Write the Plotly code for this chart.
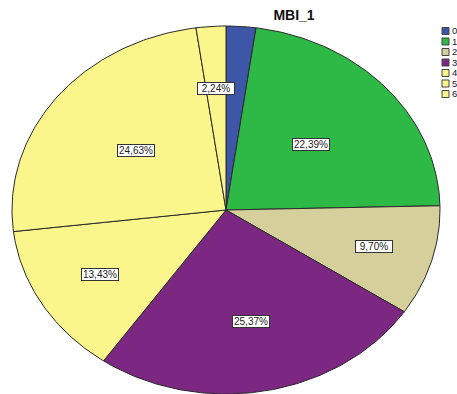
import numpy as np
import plotly.graph_objects as go

# MBI_1 answer distribution (percent of respondents)
categories = ["0", "1", "2", "3", "4", "5", "6"]
percents = [2.24, 22.39, 9.70, 25.37, 13.43, 24.63, 2.24]
show_label = [False, True, True, True, True, True, True]

colors = ["#3D56A8", "#2EB846", "#D4CF9B", "#7C2781", "#FAF68C", "#FAF68C", "#FAF68C"]
edge = "#2a2a2a"
# radial position of each value label, as a fraction of the radius
label_radius = [0.6, 0.533, 0.721, 0.616, 0.687, 0.528, 0.661]

W, H = 457, 394
cx, cy = 226, 210          # pie centre in pixels
rx, ry = 214, 184          # horizontal / vertical radius in pixels

fig = go.Figure()

fractions = np.array(percents) / sum(percents)
starts = np.concatenate([[0.0], np.cumsum(fractions)[:-1]])
for i, (cat, frac, start) in enumerate(zip(categories, fractions, starts)):
    theta = 2 * np.pi * np.linspace(start, start + frac, max(8, int(frac * 400)))
    xs = np.concatenate([[0.0], np.sin(theta), [0.0]])
    ys = np.concatenate([[0.0], np.cos(theta), [0.0]])
    fig.add_trace(go.Scatter(
        x=xs, y=ys, mode="lines", fill="toself", fillcolor=colors[i],
        line=dict(color=edge, width=1), name=cat, hoverinfo="skip",
        showlegend=False,
    ))

# value labels
for i, (p, frac, start) in enumerate(zip(percents, fractions, starts)):
    if not show_label[i]:
        continue
    mid = 2 * np.pi * (start + frac / 2)
    r = label_radius[i]
    fig.add_annotation(
        x=r * np.sin(mid), y=r * np.cos(mid), xref="x", yref="y",
        text=f"{p:.2f}%".replace(".", ","), showarrow=False,
        font=dict(family="Liberation Sans, Arial", size=10, color="#222"),
        bgcolor="white", bordercolor="#333", borderwidth=1, borderpad=0,
        width=36, height=11,
    )

# legend (square swatch + category code), stacked at the right edge
leg_x0, leg_y0, leg_dy, sw = 442, 31, 10.5, 7
for i, cat in enumerate(categories):
    yc = leg_y0 + i * leg_dy
    fig.add_shape(
        type="rect", xref="paper", yref="paper",
        x0=leg_x0 / W, x1=(leg_x0 + sw) / W,
        y0=1 - (yc + sw / 2) / H, y1=1 - (yc - sw / 2) / H,
        fillcolor=colors[i], line=dict(color="#444", width=1),
    )
    fig.add_annotation(
        x=(leg_x0 + sw + 1) / W, y=1 - yc / H, xref="paper", yref="paper",
        text=cat, showarrow=False, xanchor="left", yanchor="middle",
        font=dict(family="Liberation Sans, Arial", size=9.5, color="#222"),
    )

fig.update_layout(
    width=W, height=H, autosize=False,
    margin=dict(l=0, r=0, t=0, b=0),
    paper_bgcolor="white", plot_bgcolor="white",
    title=dict(
        text="<b>MBI_1</b>", x=294 / W, xanchor="center",
        y=1 - 15 / H, yanchor="middle",
        font=dict(family="Liberation Sans, Arial", size=14, color="#111"),
    ),
    xaxis=dict(range=[-cx / rx, (W - cx) / rx], visible=False, fixedrange=True),
    yaxis=dict(range=[-(H - cy) / ry, cy / ry], visible=False, fixedrange=True),
    showlegend=False,
)

fig.write_html("out.html")
